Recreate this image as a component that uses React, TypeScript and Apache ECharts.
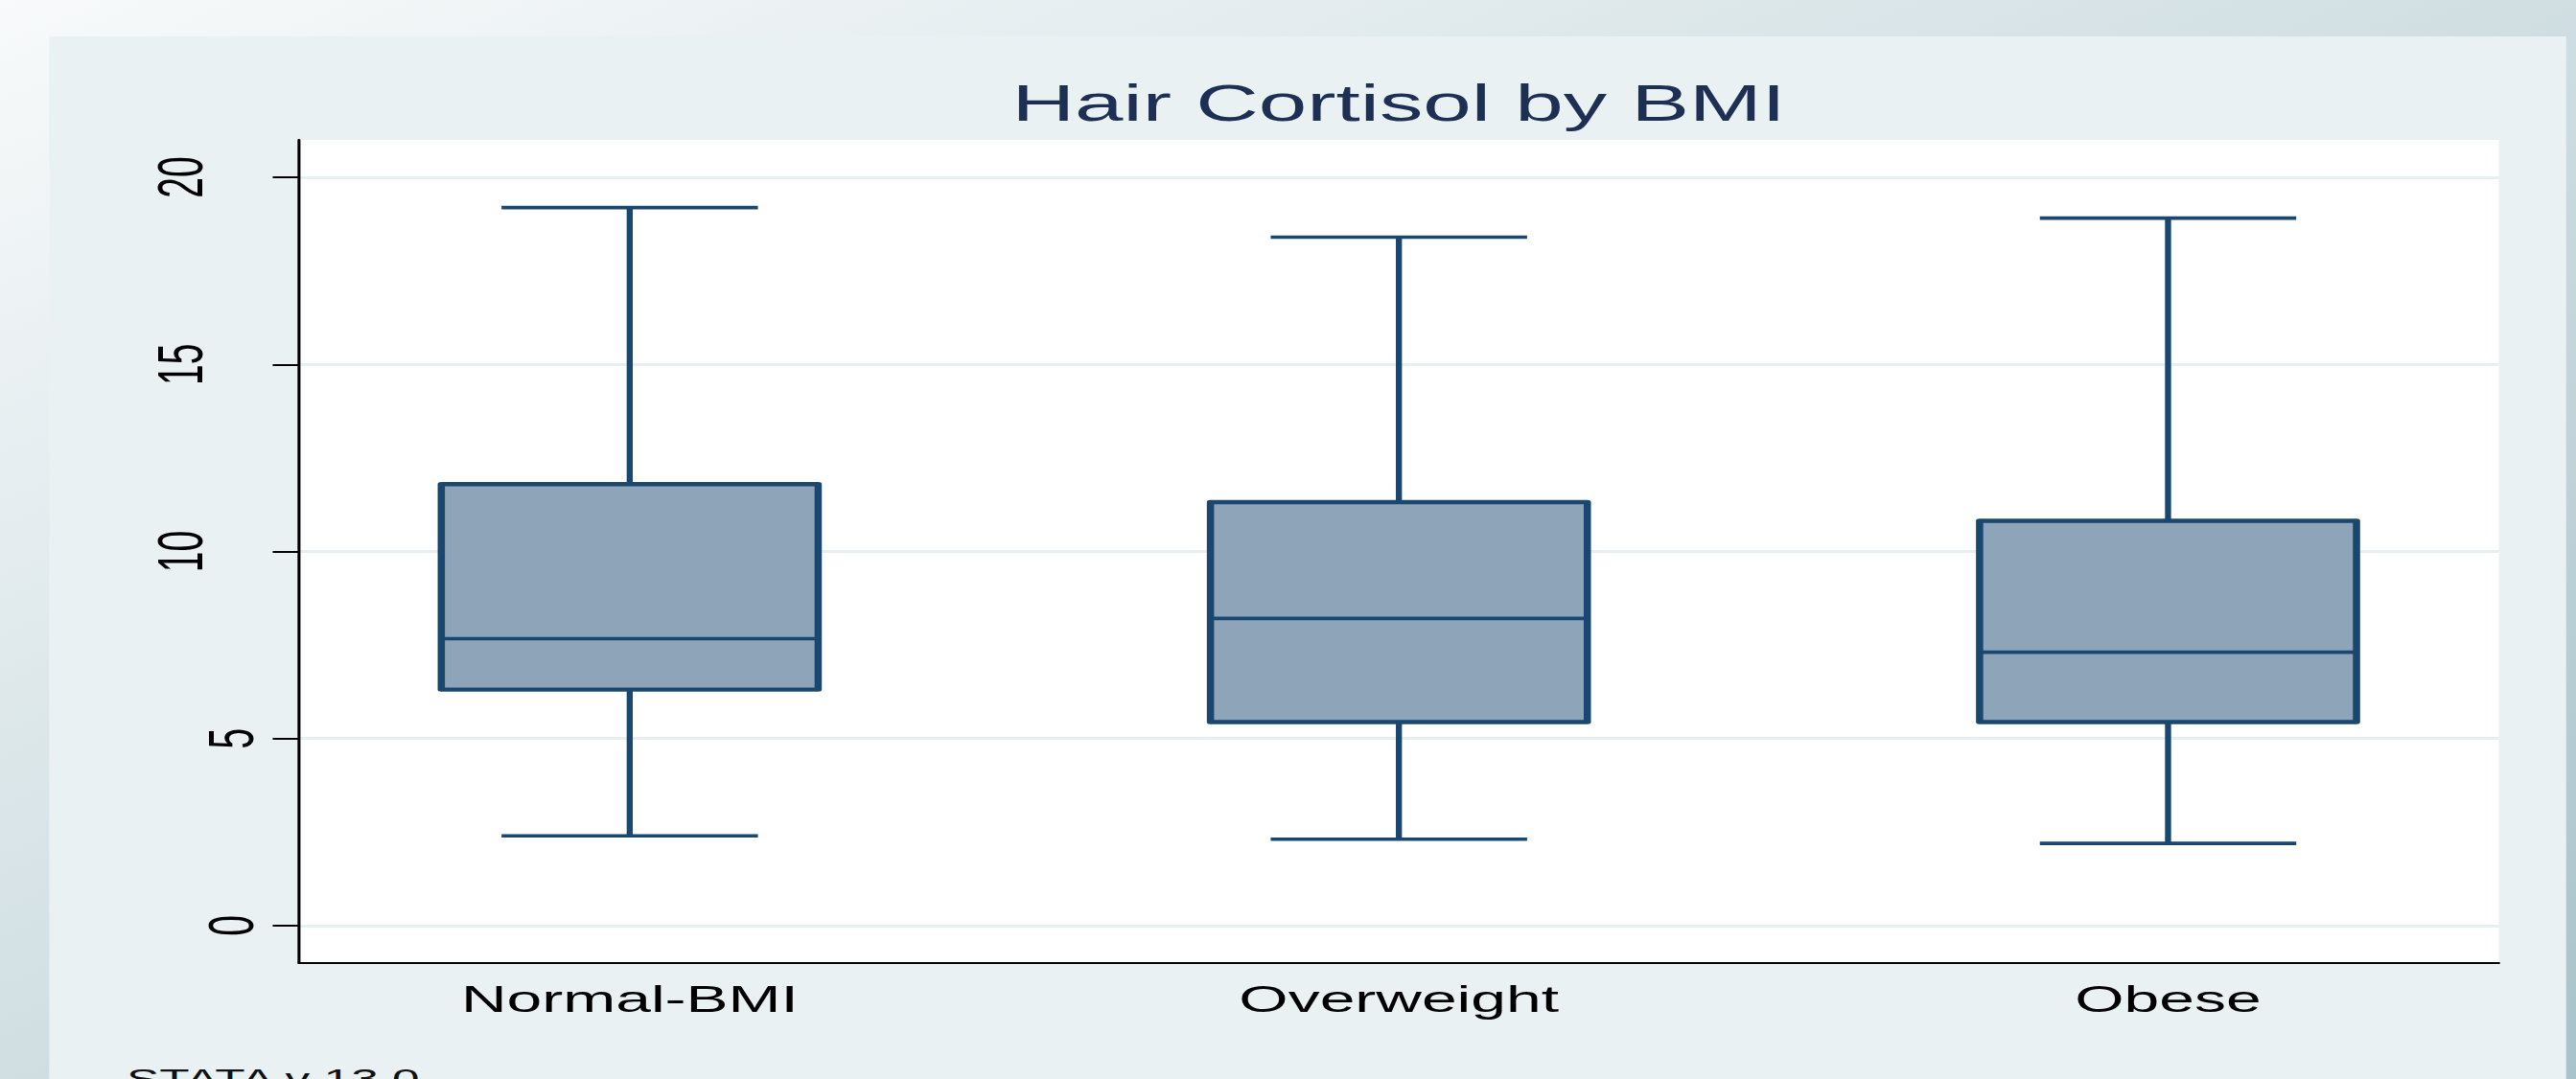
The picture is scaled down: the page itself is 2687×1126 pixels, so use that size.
import React, { useEffect, useRef } from 'react';
import * as echarts from 'echarts';

// ---- data ----
const categories = ['Normal-BMI', 'Overweight', 'Obese'];
const lowerWhisker = [2.4, 2.31, 2.2];
const q1Values = [6.31, 5.44, 5.44];
const medianValues = [7.67, 8.21, 7.31];
const q3Values = [11.8, 11.32, 10.82];
const upperWhisker = [19.19, 18.4, 18.91];
const yTicks = [0, 5, 10, 15, 20];
const yTicksTwoDigit = [10, 15, 20];
const yTicksOneDigit = [0, 5];
const xTicks = [0, 1, 2];

const TITLE = 'Hair Cortisol by BMI';
const NOTE = 'STATA v 13.0';

// ---- layout ----
const FULL_W = 2687;
const H = 1126;
const BASE_W = 1568;
const SX = FULL_W / BASE_W;
const FONT = '"Liberation Sans", Arial, Helvetica, sans-serif';
const NAVY = '#1a476f';
const FILL = '#8ea4b8';
const BOX_W = 0.49;
const CAP_W = 1 / 3;
const Y_MIN = -1;
const Y_MAX = 21;

export default function App() {
  const ref = useRef<HTMLDivElement>(null);

  useEffect(() => {
    if (!ref.current) return;
    const chart = echarts.init(ref.current, null, { renderer: 'svg' });

    const boxData = categories.map((_, i) => [
      i,
      lowerWhisker[i],
      q1Values[i],
      medianValues[i],
      q3Values[i],
      upperWhisker[i],
    ]);

    const renderItem = (params: any, api: any) => {
      const x = api.value(0);
      const c = (v: number) => api.coord([x, v]);
      const [cx, yLo] = c(api.value(1));
      const yQ1 = c(api.value(2))[1];
      const yMed = c(api.value(3))[1];
      const yQ3 = c(api.value(4))[1];
      const yHi = c(api.value(5))[1];
      const bw = api.size([BOX_W, 0])[0];
      const cw = api.size([CAP_W, 0])[0];
      const lineStyle = { stroke: NAVY, lineWidth: 3.7, lineCap: 'butt' };
      return {
        type: 'group',
        children: [
          { type: 'line', shape: { x1: cx, y1: yHi, x2: cx, y2: yQ3 }, style: lineStyle },
          { type: 'line', shape: { x1: cx, y1: yQ1, x2: cx, y2: yLo }, style: lineStyle },
          { type: 'line', shape: { x1: cx - cw / 2, y1: yHi, x2: cx + cw / 2, y2: yHi }, style: lineStyle },
          { type: 'line', shape: { x1: cx - cw / 2, y1: yLo, x2: cx + cw / 2, y2: yLo }, style: lineStyle },
          {
            type: 'rect',
            shape: { x: cx - bw / 2, y: yQ3, width: bw, height: yQ1 - yQ3 },
            style: { fill: FILL, stroke: NAVY, lineWidth: 4.4, lineJoin: 'round' },
          },
          { type: 'line', shape: { x1: cx - bw / 2, y1: yMed, x2: cx + bw / 2, y2: yMed }, style: lineStyle },
        ],
      };
    };

    const yLabelBase = {
      rotate: 90,
      color: '#000',
      fontSize: 39,
      lineHeight: 39,
      fontFamily: FONT,
    };

    chart.setOption({
      animation: false,
      backgroundColor: new echarts.graphic.LinearGradient(0, 0, 1, 1, [
        { offset: 0, color: '#f8fafb' },
        { offset: 1, color: '#a8c3ca' },
      ]),
      grid: {
        left: 182,
        right: 47,
        top: 146,
        bottom: 121,
        show: true,
        backgroundColor: '#ffffff',
        borderWidth: 0,
        containLabel: false,
        outerBoundsMode: 'none',
      },
      xAxis: {
        type: 'value',
        min: -0.43,
        max: 2.43,
        axisLine: { show: true, onZero: false, lineStyle: { color: '#000', width: 1.8 } },
        axisTick: { show: false },
        splitLine: { show: false },
        axisLabel: {
          customValues: xTicks,
          formatter: (v: number) => categories[Math.round(v)] ?? '',
          color: '#000',
          fontSize: 38.5,
          lineHeight: 38,
          fontFamily: FONT,
          margin: 18,
        },
      },
      yAxis: [
        {
          type: 'value',
          position: 'left',
          min: Y_MIN,
          max: Y_MAX,
          axisLine: { show: true, onZero: false, lineStyle: { color: '#000', width: 1.8 } },
          axisTick: {
            show: true,
            customValues: yTicks,
            length: 16,
            lineStyle: { color: '#000', width: 2 },
          },
          axisLabel: { ...yLabelBase, customValues: yTicksTwoDigit, margin: 53 },
          splitLine: { show: true, lineStyle: { color: '#e7eff2', width: 3.2 } },
        },
        {
          type: 'value',
          position: 'left',
          min: Y_MIN,
          max: Y_MAX,
          axisLine: { show: false, onZero: false },
          axisTick: { show: false, customValues: yTicksOneDigit },
          axisLabel: { ...yLabelBase, customValues: yTicksOneDigit, margin: 22 },
          splitLine: { show: false },
        },
      ],
      graphic: [
        {
          type: 'rect',
          z: -10,
          shape: { x: 30, y: 38, width: 1532, height: 1100 },
          style: { fill: '#e9f1f3' },
        },
        {
          type: 'text',
          z: 10,
          x: 851.5,
          y: 108,
          style: {
            text: TITLE,
            fill: '#1e2f54',
            font: `53px ${FONT}`,
            align: 'center',
            verticalAlign: 'middle',
          },
        },
        {
          type: 'text',
          z: 10,
          x: 77,
          y: 1126,
          style: {
            text: NOTE,
            fill: '#111111',
            font: `30px ${FONT}`,
            align: 'left',
            verticalAlign: 'middle',
          },
        },
      ],
      series: [
        {
          type: 'custom',
          z: 5,
          renderItem,
          encode: { x: 0, y: [1, 2, 3, 4, 5] },
          data: boxData,
        },
      ],
    });

    return () => chart.dispose();
  }, []);

  return (
    <div
      style={{
        position: 'fixed',
        left: 0,
        top: 0,
        width: FULL_W,
        height: H,
        overflow: 'hidden',
      }}
    >
      <div
        ref={ref}
        style={{
          width: BASE_W,
          height: H,
          transform: `scaleX(${SX})`,
          transformOrigin: '0 0',
        }}
      />
    </div>
  );
}
